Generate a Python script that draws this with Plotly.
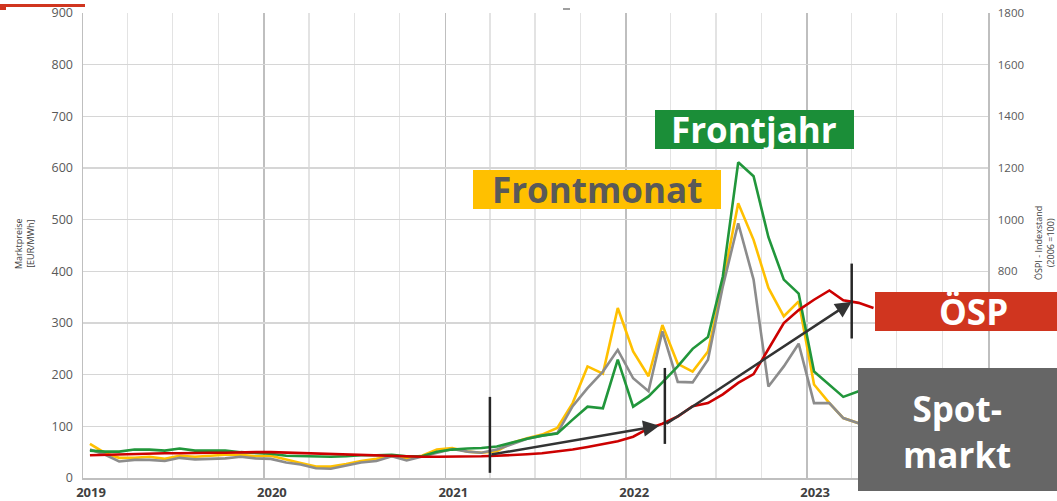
import plotly.graph_objects as go

# ---------------- data (monthly, mid-month) ----------------
months = [f"{y}-{m:02d}-15" for y in range(2019, 2024) for m in range(1, 13)][:53]

spot = [55, 45, 32, 35, 35, 33, 39, 36, 37, 38, 41, 38,
        37, 30, 26, 19, 18, 24, 30, 33, 42, 34, 41, 48,
        56, 51, 49, 55, 66, 76, 82, 87, 139, 174, 206, 248,
        193, 168, 284, 186, 185, 229, 371, 493, 384, 177, 216, 260,
        145, 145, 116, 106]

frontmonat = [66, 48, 39, 39, 41, 37, 43, 41, 43, 45, 45, 42,
              43, 35, 29, 22, 22, 27, 33, 37, 42, 39, 43, 55,
              58, 51, 49, 52, 68, 77, 84, 97, 145, 216, 202, 329,
              245, 197, 296, 221, 206, 245, 377, 532, 461, 368, 313, 342,
              181, 145, 116, 106]

frontjahr = [53, 51, 51, 55, 55, 53, 57, 53, 53, 53, 50, 48,
             47, 43, 42, 41, 41, 42, 44, 44, 45, 42, 42, 51,
             55, 57, 58, 61, 69, 76, 82, 86, 113, 138, 135, 229,
             138, 158, 185, 216, 250, 273, 390, 611, 584, 466, 384, 357,
             206, 181, 157, 168]

ospi = [88, 90, 92, 94, 94, 96, 96, 98, 98, 98, 100, 100,
        100, 98, 98, 96, 94, 92, 90, 88, 86, 84, 82, 82,
        82, 82, 84, 86, 88, 92, 96, 102, 110, 120, 130, 142,
        160, 192, 210, 238, 278, 290, 324, 368, 402, 500, 600, 650,
        690, 726, 688, 678, 658]

year_ticks = ["2019-01-01", "2020-01-01", "2021-01-01", "2022-01-01", "2023-01-01"]
year_labels = ["2019", "2020", "2021", "2022", "2023"]
right_ticks = [800, 1000, 1200, 1400, 1600, 1800]

# arrows: (tail_x, tail_y, head_x, head_y) in data units (left axis)
arrow_tail_x = ["2021-04-01", "2022-03-20"]
arrow_tail_y = [45, 103]
arrow_head_x = ["2022-03-09", "2023-04-01"]
arrow_head_y = [101, 341]
# vertical markers: x, y0, y1
vline_x = ["2021-04-01", "2022-03-20", "2023-04-01"]
vline_y0 = [10, 66, 270]
vline_y1 = [157, 213, 415]

# ---------------- figure ----------------
W, H = 1057, 501
L, R, T, B = 83, 69, 13, 23
PW, PH = W - L - R, H - T - B

def px(x):  # screen pixel -> paper
    return (x - L) / PW

def py(y):
    return (H - B - y) / PH

fig = go.Figure()
fig.add_trace(go.Scatter(x=months[:len(frontmonat)], y=frontmonat, mode="lines",
                         line=dict(color="#FFC000", width=2.6), name="Frontmonat"))
fig.add_trace(go.Scatter(x=months[:len(spot)], y=spot, mode="lines",
                         line=dict(color="#8C8C8C", width=2.6), name="Spotmarkt"))
fig.add_trace(go.Scatter(x=months[:len(frontjahr)], y=frontjahr, mode="lines",
                         line=dict(color="#21963B", width=2.6), name="Frontjahr"))
fig.add_trace(go.Scatter(x=months[:len(ospi)], y=ospi, mode="lines", yaxis="y2",
                         line=dict(color="#CC0000", width=2.6), name="ÖSPI"))

tickfont = dict(family="Open Sans", size=12.5, color="#595959")

fig.update_layout(
    width=W, height=H,
    margin=dict(l=L, r=R, t=T, b=B),
    paper_bgcolor="white", plot_bgcolor="white",
    showlegend=False,
    xaxis=dict(type="date", range=["2019-01-01", "2024-01-01"],
               tickvals=year_ticks, ticktext=year_labels,
               tickfont=dict(family="Open Sans", size=13, color="#404040", weight="bold"),
               ticklabelshift=8, ticklabelstandoff=2,
               showgrid=True, gridcolor="#BFBFBF", gridwidth=1.5,
               minor=dict(dtick="M3", tick0="2019-01-01", showgrid=True,
                          gridcolor="#E3E3E3", gridwidth=1.2),
               showline=True, linecolor="#BFBFBF", linewidth=1.5,
               zeroline=False, ticks="", automargin=False),
    yaxis=dict(range=[0, 900], dtick=100, tickfont=tickfont,
               showgrid=True, gridcolor="#D6D6D6", gridwidth=1.5,
               showline=True, linecolor="#BFBFBF", linewidth=1.5,
               zeroline=False, ticks="", ticklabelstandoff=6, automargin=False),
    yaxis2=dict(range=[0, 1800], tickvals=right_ticks, overlaying="y", side="right",
                tickfont=dict(family="Open Sans", size=11.5, color="#595959"),
                showgrid=False, showline=True, linecolor="#BFBFBF", linewidth=1.5,
                zeroline=False, ticks="", ticklabelstandoff=6, automargin=False),
)

# vertical markers
for xv, a, b in zip(vline_x, vline_y0, vline_y1):
    fig.add_shape(type="line", xref="x", yref="y", x0=xv, x1=xv, y0=a, y1=b,
                  line=dict(color="#262626", width=2.5), layer="above")

# arrows
for tx, ty, hx, hy in zip(arrow_tail_x, arrow_tail_y, arrow_head_x, arrow_head_y):
    fig.add_annotation(x=hx, y=hy, ax=tx, ay=ty, xref="x", yref="y", axref="x", ayref="y",
                       text="", showarrow=True, arrowhead=2, arrowsize=1.3,
                       arrowwidth=2.5, arrowcolor="#333333", standoff=0)

# label boxes (screen pixel positions converted to paper coords)
boxes = [
    (655, 110, 854, 149, "#1B8E38"),
    (473, 170, 721, 209, "#FFC000"),
    (875, 292, 1057, 331, "#D0351F"),
    (858, 368, 1057, 491, "#666666"),
]
for x0, y0, x1, y1, c in boxes:
    fig.add_shape(type="rect", xref="paper", yref="paper",
                  x0=px(x0), x1=px(x1), y0=py(y1), y1=py(y0),
                  fillcolor=c, line=dict(width=0), layer="above")

labels = [
    ("Frontjahr", 754, 129, "white"),
    ("Frontmonat", 597, 189, "#595959"),
    ("ÖSP", 973, 311, "white"),
    ("Spot-<br>markt", 957, 431, "white"),
]
for txt, x, y, col in labels:
    fig.add_annotation(text=txt, x=px(x), y=py(y), xref="paper", yref="paper",
                       showarrow=False, xanchor="center", yanchor="middle",
                       font=dict(family="Open Sans", size=35, color=col, weight="bold"))

# axis titles
fig.add_annotation(text="Marktpreise<br>[EUR/MWh]", x=px(24), y=py(243), xref="paper", yref="paper",
                   showarrow=False, textangle=-90, xanchor="center", yanchor="middle",
                   font=dict(family="Open Sans", size=9, color="#404040"))
fig.add_annotation(text="ÖSPI - Indexstand<br>(2006 =100)", x=px(1044), y=py(243), xref="paper", yref="paper",
                   showarrow=False, textangle=-90, xanchor="center", yanchor="middle",
                   font=dict(family="Open Sans", size=9, color="#404040"))

# slide fragments at the top
fig.add_shape(type="rect", xref="paper", yref="paper", x0=px(0), x1=px(85), y0=py(7), y1=py(4),
              fillcolor="#D0351F", line=dict(width=0), layer="above")
fig.add_shape(type="rect", xref="paper", yref="paper", x0=px(0), x1=px(6), y0=py(10), y1=py(7),
              fillcolor="#D0351F", line=dict(width=0), layer="above")
fig.add_shape(type="line", xref="paper", yref="paper", x0=px(563), x1=px(570), y0=py(9), y1=py(9),
              line=dict(color="#7F7F7F", width=1.5), layer="above")

fig.write_html("out.html",
               config={"displayModeBar": False, "staticPlot": True},
               post_script="document.body.style.margin='0px';document.body.style.overflow='hidden';")
